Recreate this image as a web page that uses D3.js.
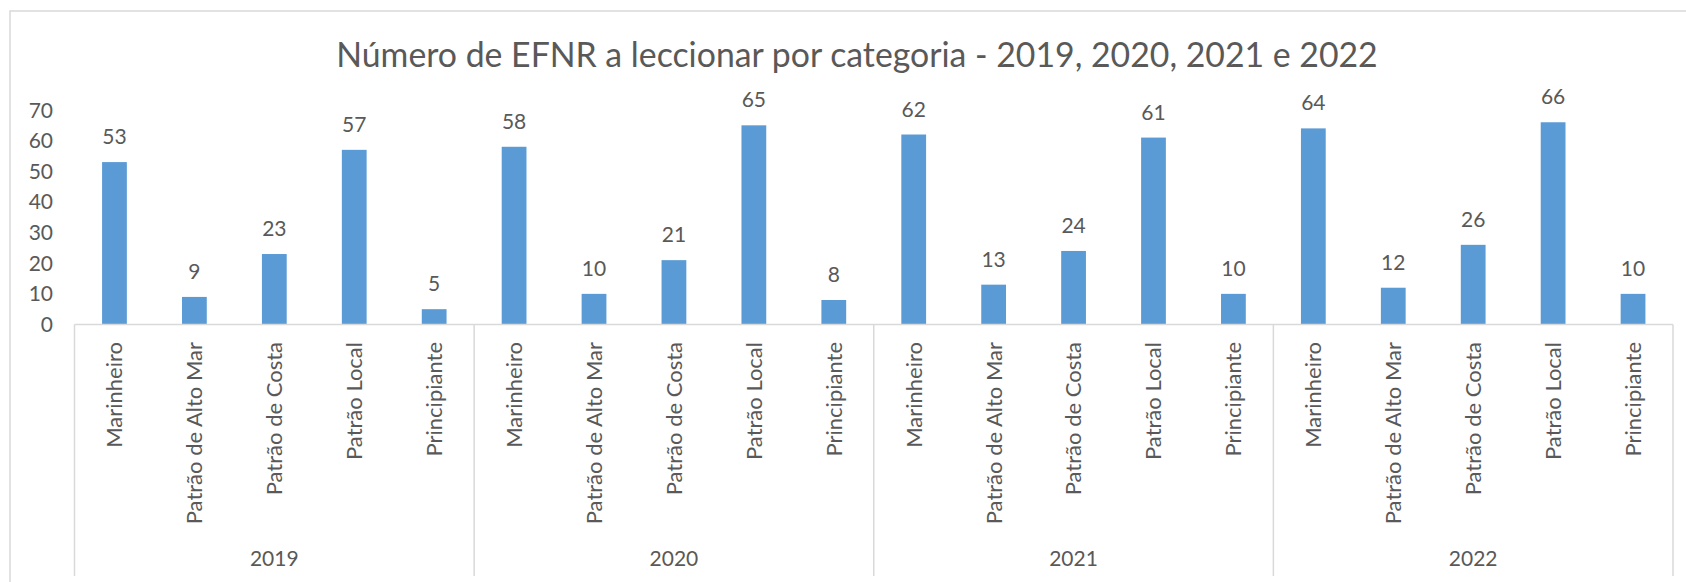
<!DOCTYPE html>
<html>
<head>
<meta charset="utf-8">
<script src="https://cdn.jsdelivr.net/npm/d3@7"></script>
<style>
    body { margin: 0; background: #fff; }
    .ch-svg text { font-family: Lato, 'Open Sans', sans-serif; fill: #595959; }
    .ch-line { stroke: #d9d9d9; stroke-width: 1.5; fill: none; }
    .ch-bar { fill: #5b9bd5; }
</style>
</head>
<body>
<svg class="ch-svg"></svg>
<script>

const title = 'Número de EFNR a leccionar por categoria - 2019, 2020, 2021 e 2022'
const years = [ '2019', '2020', '2021', '2022' ]
const categories = [ 'Marinheiro', 'Patrão de Alto Mar', 'Patrão de Costa', 'Patrão Local', 'Principiante' ]
const values2019 = [ 53, 9, 23, 57, 5 ]
const values2020 = [ 58, 10, 21, 65, 8 ]
const values2021 = [ 62, 13, 24, 61, 10 ]
const values2022 = [ 64, 12, 26, 66, 10 ]
const yTicks = [ 0, 10, 20, 30, 40, 50, 60, 70 ]

const draw = () => {

    const width = 1686
    const height = 582

    const svg = d3.select('.ch-svg')
        .attr('width', width)
        .attr('height', height)

    const padding = {
        top: 110,
        left: 74.5,
        right: 13,
        baseline: 324.5
    }

    const rows = [ values2019, values2020, values2021, values2022 ]
    const data = years.flatMap((y, i) => categories.map((c, j) => ({ year: y, cat: c, value: rows[i][j] })))

    // outer frame
    svg.append('rect')
        .attr('x', 10)
        .attr('y', 11)
        .attr('width', 1720)
        .attr('height', 620)
        .attr('class', 'ch-line')

    svg.append('text')
        .attr('x', 857)
        .attr('y', 67)
        .attr('text-anchor', 'middle')
        .style('font-size', '33.8px')
        .text(title)

    const x0 = d3.scaleBand()
        .domain(years)
        .range([ padding.left, width - padding.right ])

    const x1 = d3.scaleBand()
        .domain(categories)
        .range([ 0, x0.bandwidth() ])
        .paddingInner(0.69)
        .paddingOuter(0.345)

    const yScale = d3.scaleLinear()
        .domain([ 0, 70 ])
        .range([ padding.baseline, padding.top ])

    // y labels, no axis line
    svg.selectAll('blah')
        .data(yTicks)
        .enter()
        .append('text')
        .attr('x', 53)
        .attr('y', d => yScale(d))
        .attr('dy', '0.36em')
        .attr('text-anchor', 'end')
        .style('font-size', '21px')
        .text(d => d)

    svg.selectAll('blah')
        .data(data)
        .enter()
        .append('rect')
        .attr('class', 'ch-bar')
        .attr('x', d => x0(d.year) + x1(d.cat))
        .attr('width', x1.bandwidth())
        .attr('y', d => yScale(d.value))
        .attr('height', d => padding.baseline - yScale(d.value))

    svg.selectAll('blah')
        .data(data)
        .enter()
        .append('text')
        .attr('x', d => x0(d.year) + x1(d.cat) + x1.bandwidth()/2)
        .attr('y', d => yScale(d.value) - 18)
        .attr('text-anchor', 'middle')
        .style('font-size', '21px')
        .text(d => d.value)

    // baseline + group separators
    svg.append('line')
        .attr('class', 'ch-line')
        .attr('x1', padding.left)
        .attr('x2', width - padding.right)
        .attr('y1', padding.baseline)
        .attr('y2', padding.baseline)

    const seps = years.map(y => x0(y)).concat([ width - padding.right ])

    svg.selectAll('blah')
        .data(seps)
        .enter()
        .append('line')
        .attr('class', 'ch-line')
        .attr('x1', d => d)
        .attr('x2', d => d)
        .attr('y1', padding.baseline)
        .attr('y2', 576)

    svg.selectAll('blah')
        .data(data)
        .enter()
        .append('text')
        .attr('transform', d => {
            const cx = x0(d.year) + x1(d.cat) + x1.bandwidth()/2
            return `translate(${cx}, 342) rotate(-90)`
        })
        .attr('dy', '0.36em')
        .attr('text-anchor', 'end')
        .style('font-size', '22px')
        .text(d => d.cat)

    svg.selectAll('blah')
        .data(years)
        .enter()
        .append('text')
        .attr('x', d => x0(d) + x0.bandwidth()/2)
        .attr('y', 566)
        .attr('text-anchor', 'middle')
        .style('font-size', '21px')
        .text(d => d)

}

draw()
</script>
</body>
</html>
